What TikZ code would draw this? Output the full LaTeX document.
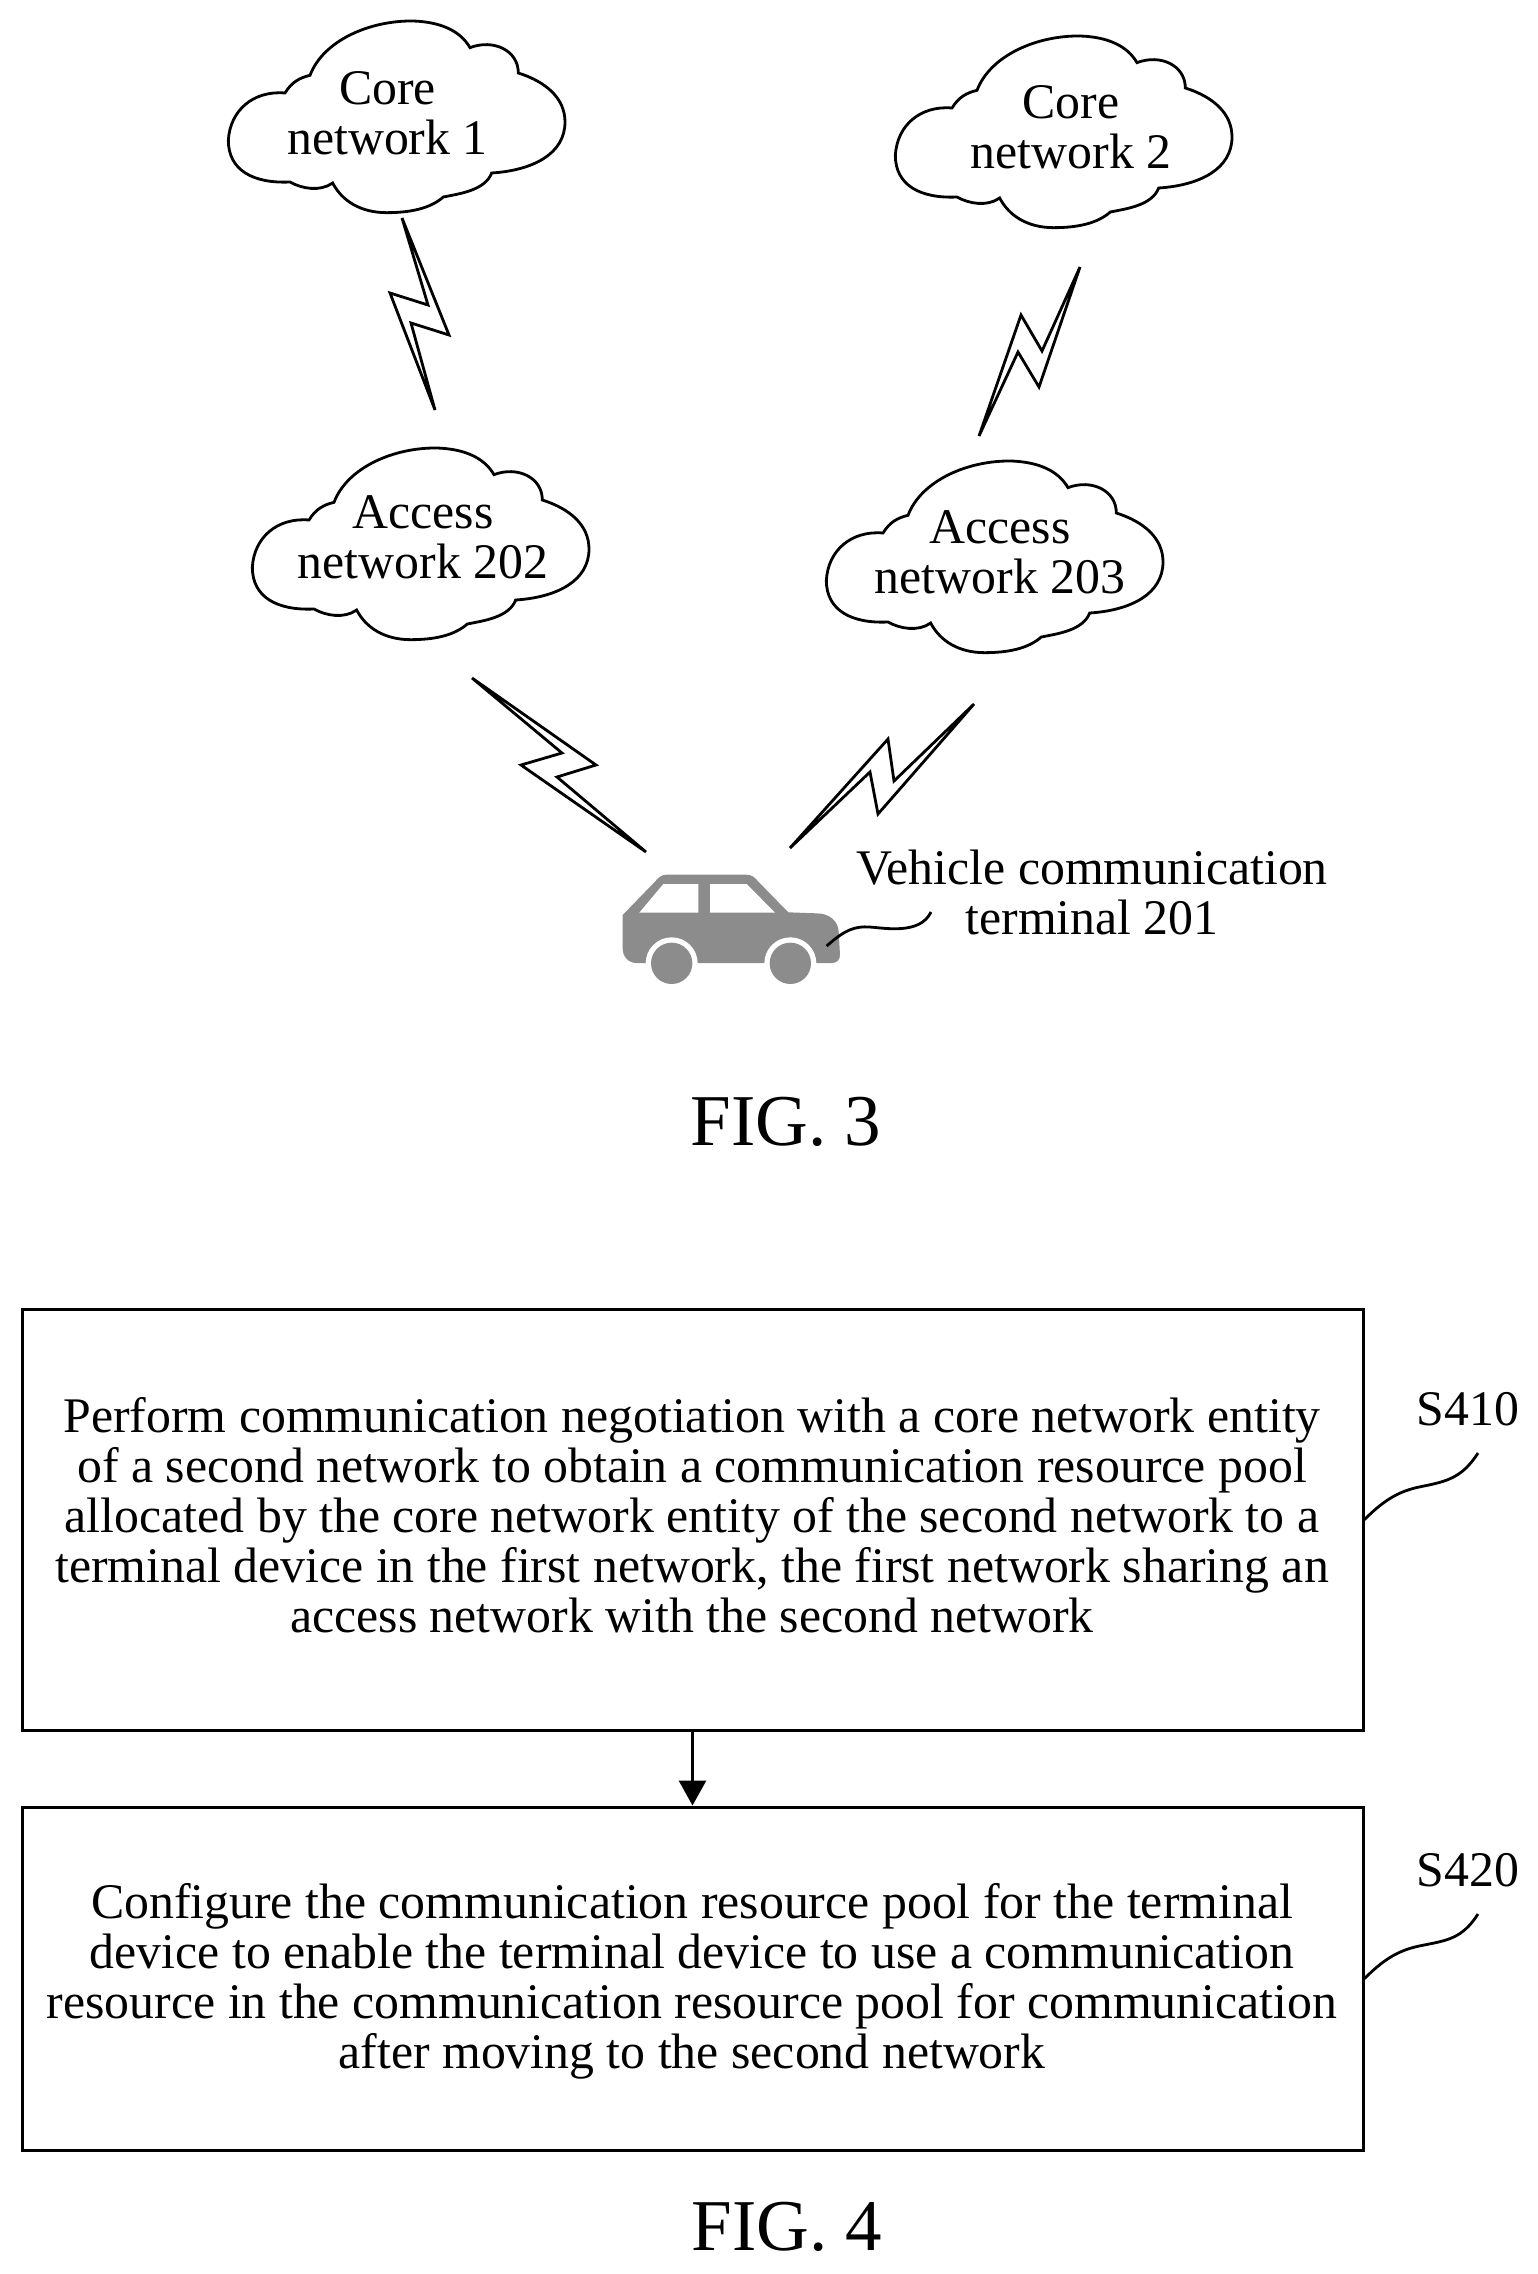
\documentclass[tikz,border=0pt]{standalone}
\usepackage{fontspec}
\setmainfont{Liberation Serif}
\usetikzlibrary{arrows.meta}
\definecolor{cargray}{gray}{0.55}
\tikzset{
  x=1pt,y=-1pt,
  ln/.style={line width=2.8pt,black},
  lbl/.style={font=\fontsize{49.8}{50}\selectfont,align=center,inner sep=0pt,text=black},
  figlbl/.style={font=\fontsize{73}{73}\selectfont,inner sep=0pt,text=black},
  stepbox/.style={draw=black,line width=3pt,inner sep=0pt},
  bolt/.style={ln,line join=miter,miter limit=3},
  netcloud/.pic={
    \draw[ln,scale=1/3] (-500,70)
      .. controls (-495,-20) and (-425,-80) .. (-330,-72)
      .. controls (-310,-105) and (-285,-118) .. (-255,-125)
      .. controls (-215,-230) and (-75,-290) .. (55,-288)
      .. controls (135,-285) and (195,-260) .. (225,-208)
      .. controls (295,-235) and (370,-200) .. (370,-132)
      .. controls (455,-105) and (510,-55) .. (510,15)
      .. controls (510,110) and (415,160) .. (290,168)
      .. controls (270,220) and (195,230) .. (145,240)
      .. controls (105,275) and (45,287) .. (-25,287)
      .. controls (-105,287) and (-160,250) .. (-187,198)
      .. controls (-225,225) and (-280,215) .. (-315,195)
      .. controls (-425,200) and (-500,160) .. cycle;
  }
}
\begin{document}
\begin{tikzpicture}
\useasboundingbox (0,0) rectangle (1538,2274);
% clouds
\pic at (395,117) {netcloud};
\pic at (1062,132) {netcloud};
\pic at (419,544) {netcloud};
\pic at (993,557) {netcloud};
\node[lbl] (core1) at (387.5,113) {Core\\network 1};
\node[lbl] (core2) at (1071,127) {Core\\network 2};
\node[lbl] (acc202) at (423,537) {Access\\network 202};
\node[lbl] (acc203) at (1000,552) {Access\\network 203};
% bolts
\draw[bolt] (402,218) -- (449,335) -- (411,323) -- (435,410) -- (390,293) -- (428,305) -- cycle;
\draw[bolt] (1080,267) -- (1039,387) -- (1018,352) -- (979,436) -- (1021,315) -- (1042,351) -- cycle;
\draw[bolt] (472,678) -- (596,765) -- (557,777) -- (646,852) -- (521,765) -- (562,753) -- cycle;
\draw[bolt] (974,704) -- (878,814) -- (870,772) -- (790,848) -- (888,739) -- (894,781) -- cycle;
% car
\begin{scope}[shift={(600,860)},scale=1/3]
  \fill[cargray] (68,165) -- (165,65) .. controls (175,52) and (185,44) .. (200,44)
     -- (438,44) .. controls (455,44) and (465,52) .. (475,65)
     -- (565,157) -- (650,160) .. controls (690,160) and (715,185) .. (716,215)
     -- (720,285) .. controls (720,300) and (710,309) .. (695,309)
     -- (110,309) .. controls (85,309) and (68,290) .. (68,265) -- cycle;
  \fill[white] (118,158) -- (190,72) -- (295,72) -- (295,158) -- cycle;
  \fill[white] (330,72) -- (440,72) -- (525,158) -- (330,158) -- cycle;
  \fill[white] (215,310) circle [radius=78];
  \fill[white] (571,310) circle [radius=78];
  \fill[cargray] (215,310) circle [radius=62];
  \fill[cargray] (571,310) circle [radius=62];
  \coordinate (carfront) at (680,258);
\end{scope}
\coordinate (carlabel) at (931,912);
\draw[ln] (carfront) .. controls ++(18,-16) and ++(-15,-1) .. ++(43,-19) .. controls ++(15,1) and ++(-11,23) .. (carlabel);
\node[lbl] (vehicle) at (1092,892) {Vehicle communication\\terminal 201};
\node[figlbl] (fig3) at (786,1122) {FIG. 3};
% boxes
\node[stepbox,minimum width=1341pt,minimum height=421pt] (box1) at (692.5,1519.5) {};
\node[stepbox,minimum width=1341pt,minimum height=343pt] (box2) at (692.5,1978.5) {};
\node[lbl] (box1txt) at (692,1515)
 {Perform communication negotiation with a core network entity\\
  of a second network to obtain a communication resource pool\\
  allocated by the core network entity of the second network to a\\
  terminal device in the first network, the first network sharing an\\
  access network with the second network};
\node[lbl] (box2txt) at (692,1981.5)
 {Configure the communication resource pool for the terminal\\
  device to enable the terminal device to use a communication\\
  resource in the communication resource pool for communication\\
  after moving to the second network};
\draw[line width=3pt,black,-{Triangle[length=25pt,width=27pt]}] (box1) -- (box2);
\node[lbl] (s410) at (1468,1409) {S410};
\node[lbl] (s420) at (1468,1870) {S420};
\coordinate (s410end) at (1478,1453);
\coordinate (s420end) at (1478,1914);
\draw[ln] (box1.east) .. controls ++(22,-22) and ++(-20,4) .. ++(57,-33) .. controls ++(25,-5) and ++(-16,25) .. (s410end);
\draw[ln] (box2.east) .. controls ++(22,-22) and ++(-20,4) .. ++(57,-33) .. controls ++(25,-5) and ++(-16,25) .. (s420end);
\node[figlbl] (fig4) at (787,2227) {FIG. 4};
\end{tikzpicture}
\end{document}
